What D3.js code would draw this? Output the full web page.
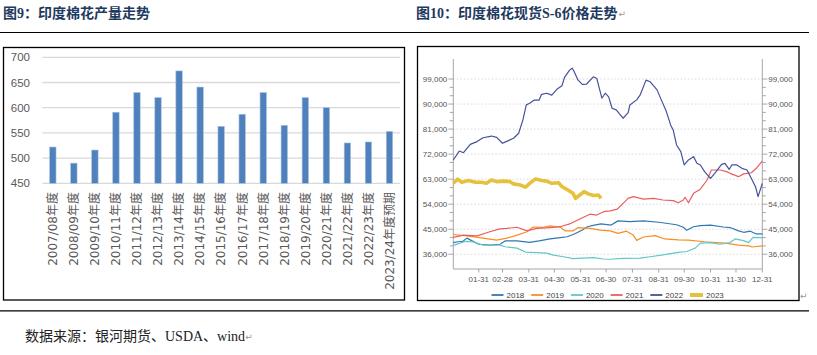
<!DOCTYPE html>
<html><head><meta charset="utf-8">
<script src="https://cdn.jsdelivr.net/npm/d3@7"></script>
<style>body{margin:0;background:#fff}svg{display:block}</style>
</head><body><svg id="c" width="817" height="355"></svg>
<script>
// ---------- Data: left chart (India cotton output, 10k tons) ----------
const seasons = ["2007/08年度","2008/09年度","2009/10年度","2010/11年度","2011/12年度","2012/13年度","2013/14年度","2014/15年度","2015/16年度","2016/17年度","2017/18年度","2018/19年度","2019/20年度","2020/21年度","2021/22年度","2022/23年度","2023/24年度预期"];
const output = [522,490,516,591,630,620,673,641,563,587,630,565,620,600,530,532,553];
const outputTicks = [450,500,550,600,650,700];

// ---------- Data: right chart (India S-6 spot price, by year) ----------
const years = ["2018","2019","2020","2021","2022","2023"];
const s2018 = [["01-01",40200],["01-07",40500],["01-12",40600],["01-17",41800],["01-22",41000],["01-31",39600],["02-13",39300],["02-25",39600],["03-03",40800],["03-17",40800],["04-01",40300],["04-12",40800],["04-25",41500],["05-07",42000],["05-15",42300],["05-23",43200],["06-02",44700],["06-08",45900],["06-16",46500],["06-24",46900],["07-06",46500],["07-14",48000],["07-28",47700],["08-13",48000],["08-31",47500],["09-21",46600],["09-29",45700],["10-03",44600],["10-11",45900],["10-19",46300],["10-31",46500],["11-15",45800],["11-23",45600],["12-03",44400],["12-09",43900],["12-17",44300],["12-24",43300],["12-31",43300]];
const s2019 = [["01-01",43100],["01-17",42600],["02-05",41800],["02-21",41100],["03-05",41800],["03-17",42900],["03-29",44100],["04-05",45800],["04-17",45700],["04-25",46200],["05-07",45700],["05-13",44400],["05-22",44400],["05-28",45600],["06-11",45300],["06-23",44700],["07-05",44400],["07-14",43500],["07-24",44300],["08-01",42900],["08-05",41000],["08-13",42200],["08-27",42700],["09-07",41500],["09-23",41200],["10-05",41100],["10-24",40500],["11-17",40000],["12-03",39300],["12-15",39000],["12-19",38600],["12-31",39000]];
const s2020 = [["01-01",39200],["01-15",40600],["01-25",40400],["02-05",39300],["02-25",39300],["03-03",38700],["03-17",38200],["03-27",36800],["04-09",36600],["04-21",36400],["04-29",35700],["05-11",35100],["05-22",34400],["06-03",34600],["06-15",34800],["06-27",34300],["07-05",34200],["07-20",34500],["08-09",34600],["08-21",35100],["09-05",35800],["09-21",36600],["10-03",37000],["10-13",38200],["10-19",40000],["10-31",40200],["11-11",39600],["11-23",40200],["11-29",41500],["12-09",40900],["12-15",40200],["12-20",42100],["12-31",42000]];
const s2021 = [["01-01",42100],["01-13",42900],["01-29",42600],["02-13",44100],["02-25",45100],["03-05",45300],["03-17",45700],["03-29",44400],["04-09",45300],["04-25",45600],["05-07",45900],["05-18",46900],["05-30",48700],["06-11",50400],["06-19",50100],["06-27",51300],["07-05",51600],["07-13",52200],["07-20",54300],["07-26",56100],["08-01",56700],["08-13",55800],["08-25",56100],["09-05",55500],["09-17",55300],["09-23",54500],["09-29",55500],["10-01",56500],["10-05",54500],["10-11",57900],["10-19",59400],["10-27",62700],["11-01",66300],["11-11",66300],["11-19",65700],["11-23",65100],["12-03",63900],["12-09",64900],["12-18",65300],["12-24",66900],["12-31",69600]];
const s2022 = [["01-01",69900],["01-08",73100],["01-13",72500],["01-21",75500],["01-29",76500],["02-05",77900],["02-15",78500],["02-21",78000],["02-28",75900],["03-05",76600],["03-13",77700],["03-19",79500],["03-24",84300],["03-28",89700],["04-01",90300],["04-06",91400],["04-12",91400],["04-15",93500],["04-21",93900],["04-27",93200],["05-03",95300],["05-09",96600],["05-12",99600],["05-18",102200],["05-21",102900],["05-23",101900],["05-28",98600],["06-02",97100],["06-07",97200],["06-15",99800],["06-19",99200],["06-25",92100],["06-29",93900],["07-03",92600],["07-07",88500],["07-12",87900],["07-16",86400],["07-20",84900],["07-26",86900],["07-28",89700],["08-05",91500],["08-09",93200],["08-16",98600],["08-21",98000],["08-29",95100],["09-03",91500],["09-09",87300],["09-14",82500],["09-17",80700],["09-21",75300],["09-26",72900],["09-30",68100],["10-05",69900],["10-11",71100],["10-15",68700],["10-19",68100],["10-24",65700],["10-31",63300],["11-05",65100],["11-13",68300],["11-17",68700],["11-22",66500],["11-25",68100],["12-01",68100],["12-07",66900],["12-13",66300],["12-18",63300],["12-23",60300],["12-26",56700],["12-31",61500]];
const s2023 = [["01-01",61500],["01-06",63000],["01-11",61900],["01-19",62500],["01-27",61900],["02-03",61900],["02-09",61500],["02-15",62700],["02-21",62100],["03-01",62300],["03-09",62100],["03-13",61300],["03-21",60900],["03-27",60100],["04-01",61500],["04-08",63100],["04-15",62500],["04-21",62300],["04-27",61500],["05-05",61700],["05-09",60300],["05-16",59100],["05-22",57900],["05-25",56100],["05-30",57300],["06-04",58500],["06-09",57700],["06-15",57100],["06-21",57300],["06-24",56100]];
const priceTicks = [36000,45000,54000,63000,72000,81000,90000,99000];
const monthTicks = ["01-31","02-28","03-31","04-30","05-31","06-30","07-31","08-31","09-30","10-31","11-30","12-31"];

// ---------- Drawing ----------
const svg = d3.select("#c");
const navy = "#1f3a5f";
const cjk = "'Noto Sans CJK SC', sans-serif";

// titles
const t1 = svg.append("text").attr("x", 3).attr("y", 18).attr("fill", navy)
  .attr("font-size", 14).attr("font-weight", "bold")
  .attr("font-family", "'Liberation Serif', 'Noto Sans CJK SC', serif").text("图9：印度棉花产量走势");
const t2 = svg.append("text").attr("x", 416).attr("y", 18).attr("fill", navy)
  .attr("font-size", 14).attr("font-weight", "bold")
  .attr("font-family", "'Liberation Serif', 'Noto Sans CJK SC', serif").text("图10：印度棉花现货S-6价格走势");
const t2w = t2.node().getComputedTextLength();
svg.append("text").attr("x", 416 + t2w + 1).attr("y", 17).attr("fill", "#999")
  .attr("font-size", 9).attr("font-family", "DejaVu Sans").text("↵");

// rules
svg.append("line").attr("x1", 0).attr("x2", 809).attr("y1", 32.5).attr("y2", 32.5).attr("stroke", "#000").attr("stroke-width", 1.2);
svg.append("line").attr("x1", 0).attr("x2", 809).attr("y1", 310.8).attr("y2", 310.8).attr("stroke", "#000").attr("stroke-width", 1.2);

// frames
svg.append("rect").attr("x", 3.5).attr("y", 47.5).attr("width", 401).attr("height", 252.5)
  .attr("fill", "none").attr("stroke", "#000").attr("stroke-width", 1.3);
svg.append("rect").attr("x", 417.5).attr("y", 46.5).attr("width", 381.5).attr("height", 254)
  .attr("fill", "none").attr("stroke", "#000").attr("stroke-width", 1.3);
svg.append("text").attr("x", 800).attr("y", 299).attr("fill", "#999")
  .attr("font-size", 9).attr("font-family", "DejaVu Sans").text("↵");

// source
const src = svg.append("text").attr("x", 25).attr("y", 341).attr("fill", "#222")
  .attr("font-size", 14).attr("font-family", "'Liberation Serif', 'Noto Sans CJK SC', serif")
  .text("数据来源：银河期货、USDA、wind");
const sw = src.node().getComputedTextLength();
svg.append("text").attr("x", 25 + sw).attr("y", 340).attr("fill", "#999")
  .attr("font-size", 9).attr("font-family", "DejaVu Sans").text("↵");

// ---------- Left chart ----------
const xL = d3.scaleBand().domain(seasons).range([42.3, 400]).padding(0);
const yL = d3.scaleLinear().domain([450, 700]).range([183.3, 57.3]);
const gL = svg.append("g");
gL.selectAll("line.grid").data(outputTicks).join("line")
  .attr("x1", 42.3).attr("x2", 400).attr("y1", d => yL(d)).attr("y2", d => yL(d))
  .attr("stroke", "#d9d9d9").attr("stroke-width", 1.3);
gL.selectAll("text.yl").data(outputTicks).join("text")
  .attr("x", 30).attr("y", d => yL(d)).attr("dy", "0.36em").attr("text-anchor", "end")
  .attr("fill", "#595959").attr("font-size", 11.5).attr("font-family", "'Liberation Sans', sans-serif")
  .text(d => d);
const bw = 6.4;
gL.selectAll("rect.bar").data(output).join("rect")
  .attr("x", (d, i) => xL(seasons[i]) + xL.bandwidth() / 2 - bw / 2)
  .attr("y", d => yL(d)).attr("width", bw).attr("height", d => yL(450) - yL(d))
  .attr("fill", "#4f81bd").attr("stroke", "#a9c1de").attr("stroke-width", 0.6);
gL.selectAll("text.xl").data(seasons).join("text")
  .attr("transform", d => `translate(${xL(d) + xL.bandwidth() / 2},192) rotate(-90)`)
  .attr("text-anchor", "end").attr("dy", "0.36em")
  .attr("fill", "#595959").attr("font-size", 12).attr("font-family", "'DejaVu Sans', 'Noto Sans CJK SC', sans-serif")
  .text(d => d);

// ---------- Right chart ----------
const parse = s => d3.timeParse("%Y-%m-%d")("2021-" + s);
const xR = d3.scaleTime().domain([parse("01-01"), parse("12-31")]).range([453.3, 762.3]);
const yR = d3.scaleLinear().domain([30700, 106200]).range([269, 59]);
const gR = svg.append("g");
const fmt = d3.format(",");
// grid
gR.selectAll("line.grid").data(priceTicks).join("line")
  .attr("x1", 453.3).attr("x2", 762.3).attr("y1", d => yR(d)).attr("y2", d => yR(d))
  .attr("stroke", "#cfcfcf").attr("stroke-width", 0.8).attr("stroke-dasharray", "1.5,2");
// axes lines
const axc = "#a6a6a6";
gR.append("line").attr("x1", 453.3).attr("x2", 453.3).attr("y1", 59).attr("y2", 269).attr("stroke", axc);
gR.append("line").attr("x1", 762.3).attr("x2", 762.3).attr("y1", 59).attr("y2", 269).attr("stroke", axc);
gR.append("line").attr("x1", 453.3).attr("x2", 762.3).attr("y1", 269).attr("y2", 269).attr("stroke", axc);
// minor ticks
const minor = d3.range(36000, 99001, 3000).filter(v => !priceTicks.includes(v));
[[453.3, -1], [762.3, 1]].forEach(([x0, dir]) => {
  gR.selectAll(null).data(minor).join("line")
    .attr("x1", x0).attr("x2", x0 + dir * 3.5).attr("y1", d => yR(d)).attr("y2", d => yR(d)).attr("stroke", axc);
  gR.selectAll(null).data(priceTicks).join("line")
    .attr("x1", x0).attr("x2", x0 + dir * 5).attr("y1", d => yR(d)).attr("y2", d => yR(d)).attr("stroke", axc);
  gR.selectAll(null).data(priceTicks).join("text")
    .attr("x", x0 + dir * 6).attr("y", d => yR(d)).attr("dy", "0.35em")
    .attr("text-anchor", dir < 0 ? "end" : "start")
    .attr("fill", "#555").attr("font-size", 8).attr("font-family", "'Liberation Sans', sans-serif")
    .text(d => fmt(d));
});
// x ticks
gR.selectAll("line.xt").data(monthTicks).join("line")
  .attr("x1", d => xR(parse(d))).attr("x2", d => xR(parse(d))).attr("y1", 269).attr("y2", 272.5).attr("stroke", axc);
gR.selectAll("text.xt").data(monthTicks).join("text")
  .attr("x", d => xR(parse(d))).attr("y", 279).attr("dy", "0.35em").attr("text-anchor", "middle")
  .attr("fill", "#555").attr("font-size", 8).attr("font-family", "'Liberation Sans', sans-serif")
  .text(d => d);

// series
const series = [
  { name: years[0], data: s2018, color: "#2f78b4", w: 1.2 },
  { name: years[1], data: s2019, color: "#f98e24", w: 1.2 },
  { name: years[2], data: s2020, color: "#63c7c7", w: 1.2 },
  { name: years[3], data: s2021, color: "#eb5e60", w: 1.2 },
  { name: years[4], data: s2022, color: "#45519b", w: 1.2 },
  { name: years[5], data: s2023, color: "#e6c13e", w: 3.6 }
];
const line = d3.line().x(d => xR(parse(d[0]))).y(d => yR(d[1]));
series.forEach(s => {
  gR.append("path").attr("d", line(s.data)).attr("fill", "none")
    .attr("stroke", s.color).attr("stroke-width", s.w).attr("stroke-linejoin", "round");
});

// legend
const lg = gR.append("g");
series.forEach((s, i) => {
  const x0 = 491.5 + i * 39.7;
  lg.append("line").attr("x1", x0).attr("x2", x0 + (s.w > 2 ? 13 : 12)).attr("y1", 295).attr("y2", 295)
    .attr("stroke", s.color).attr("stroke-width", s.w > 2 ? 4 : 1.8);
  lg.append("text").attr("x", x0 + (s.w > 2 ? 16 : 15)).attr("y", 295).attr("dy", "0.35em")
    .attr("fill", "#444").attr("font-size", 8).attr("font-family", "'Liberation Sans', sans-serif")
    .text(s.name);
});
</script></body></html>
